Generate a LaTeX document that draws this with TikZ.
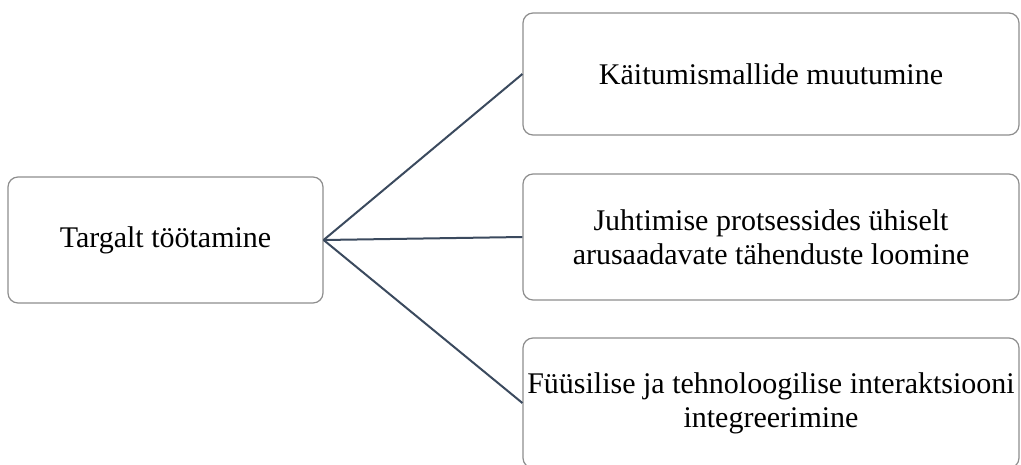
\documentclass[tikz,border=0pt]{standalone}
\usepackage{fontspec}
\setmainfont{Liberation Serif}
\usetikzlibrary{positioning}
\definecolor{linkcol}{HTML}{3B4A5E}
\definecolor{boxcol}{HTML}{8E8E8E}
\begin{document}
\begin{tikzpicture}[x=1pt,y=-1pt,
    box/.style={draw=boxcol,line width=1.2pt,rounded corners=10pt,fill=white,
      align=center,font=\fontsize{30}{34}\selectfont,inner sep=0pt},
    link/.style={draw=linkcol,line width=2pt}]
  \useasboundingbox (0,0) rectangle (1021,464);
  \node[box,minimum width=315pt,minimum height=126pt] (root) at (165.5,240) {Targalt töötamine};
  \node[box,minimum width=496pt,minimum height=122pt] (b1) at (771,74) {Käitumismallide muutumine};
  \node[box,minimum width=496pt,minimum height=126pt] (b2) at (771,237) {Juhtimise protsessides ühiselt\\arusaadavate tähenduste loomine};
  \node[box,minimum width=496pt,minimum height=130pt] (b3) at (771,403) {Füüsilise ja tehnoloogilise interaktsiooni\\integreerimine};
  \path[link]
    (root.east) edge (b1.west)
    (root.east) edge (b2.west)
    (root.east) edge (b3.west);
\end{tikzpicture}
\end{document}
